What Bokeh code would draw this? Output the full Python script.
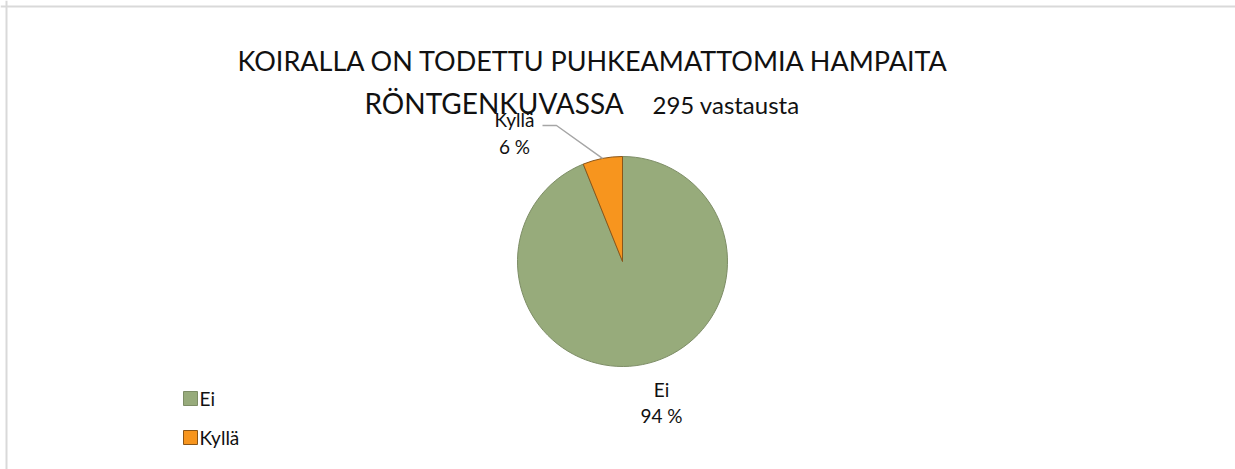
import math
from bokeh.plotting import figure
from bokeh.models import Range1d, Span
from bokeh.core.properties import value
from bokeh.embed import file_html
from bokeh.resources import INLINE

# ---- data ----
categories = ["Ei", "Kyllä"]
counts = [277, 18]
pct_labels = ["94 %", "6 %"]
colors = ["#97AB7B", "#F7951E"]
edge_colors = ["#7D8D66", "#8A5518"]
title_line1 = "KOIRALLA ON TODETTU PUHKEAMATTOMIA HAMPAITA"
title_line2 = "RÖNTGENKUVASSA"
subtitle = "295 vastausta"

W, H = 1235, 469
FONT = "Lato"

def X(xi):
    return xi

def Y(yi):
    return H - yi

p = figure(width=W, height=H, output_backend="svg", toolbar_location=None,
           x_range=Range1d(0, W), y_range=Range1d(0, H), min_border=0,
           outline_line_color=None, border_fill_color="white")
p.axis.visible = False
p.grid.visible = False
p.background_fill_color = "white"

# chart border (top / left)
p.add_layout(Span(location=Y(6), dimension="width", line_color="#D9D9D9", line_width=2))
p.add_layout(Span(location=X(6), dimension="height", line_color="#D9D9D9", line_width=2))

# pie
cx, cy, r = X(622), Y(261), 105
total = sum(counts)
start = math.pi / 2
starts, ends, mids = [], [], []
for c in counts:
    sweep = 2 * math.pi * c / total
    starts.append(start)
    ends.append(start - sweep)
    mids.append(start - sweep / 2)
    start -= sweep
p.wedge(x=[cx] * len(counts), y=[cy] * len(counts), radius=r, radius_units="screen",
        start_angle=starts, end_angle=ends, direction="clock",
        fill_color=colors, line_color=edge_colors, line_width=1)

# data labels
lbl_x = [X(661), X(514)]
lbl_y1 = [Y(389), Y(119)]
lbl_y2 = [Y(415), Y(146)]
p.text(x=lbl_x, y=lbl_y1, text=categories, text_font=value(FONT), text_font_size="19px",
       text_align="center", text_baseline="middle", text_color="#111111")
p.text(x=lbl_x, y=lbl_y2, text=pct_labels, text_font=value(FONT), text_font_size="19px",
       text_align="center", text_baseline="middle", text_color="#111111")

# leader line for Kyllä
ex = cx + r * math.cos(mids[1])
ey = cy + r * math.sin(mids[1])
p.line(x=[X(542), X(556), ex], y=[Y(125), Y(125), ey], line_color="#A6A6A6", line_width=1.5)

# title
p.text(x=[X(237)], y=[Y(60)], text=[title_line1], text_font=value(FONT), text_font_size="27px",
       text_align="left", text_baseline="middle", text_color="#111111")
p.text(x=[X(364)], y=[Y(102)], text=[title_line2], text_font=value(FONT), text_font_size="28px",
       text_align="left", text_baseline="middle", text_color="#111111")
p.text(x=[X(652)], y=[Y(104)], text=[subtitle], text_font=value(FONT), text_font_size="24px",
       text_align="left", text_baseline="middle", text_color="#111111")

# legend
leg_y = [Y(398), Y(437)]
p.scatter(x=[X(190)] * 2, y=leg_y, marker="square", size=14,
          fill_color=colors, line_color=edge_colors, line_width=1)
p.text(x=[X(199)] * 2, y=leg_y, text=categories, text_font=value(FONT), text_font_size="19px",
       text_align="left", text_baseline="middle", text_color="#111111")

open("out.html", "w").write(file_html(p, INLINE))
